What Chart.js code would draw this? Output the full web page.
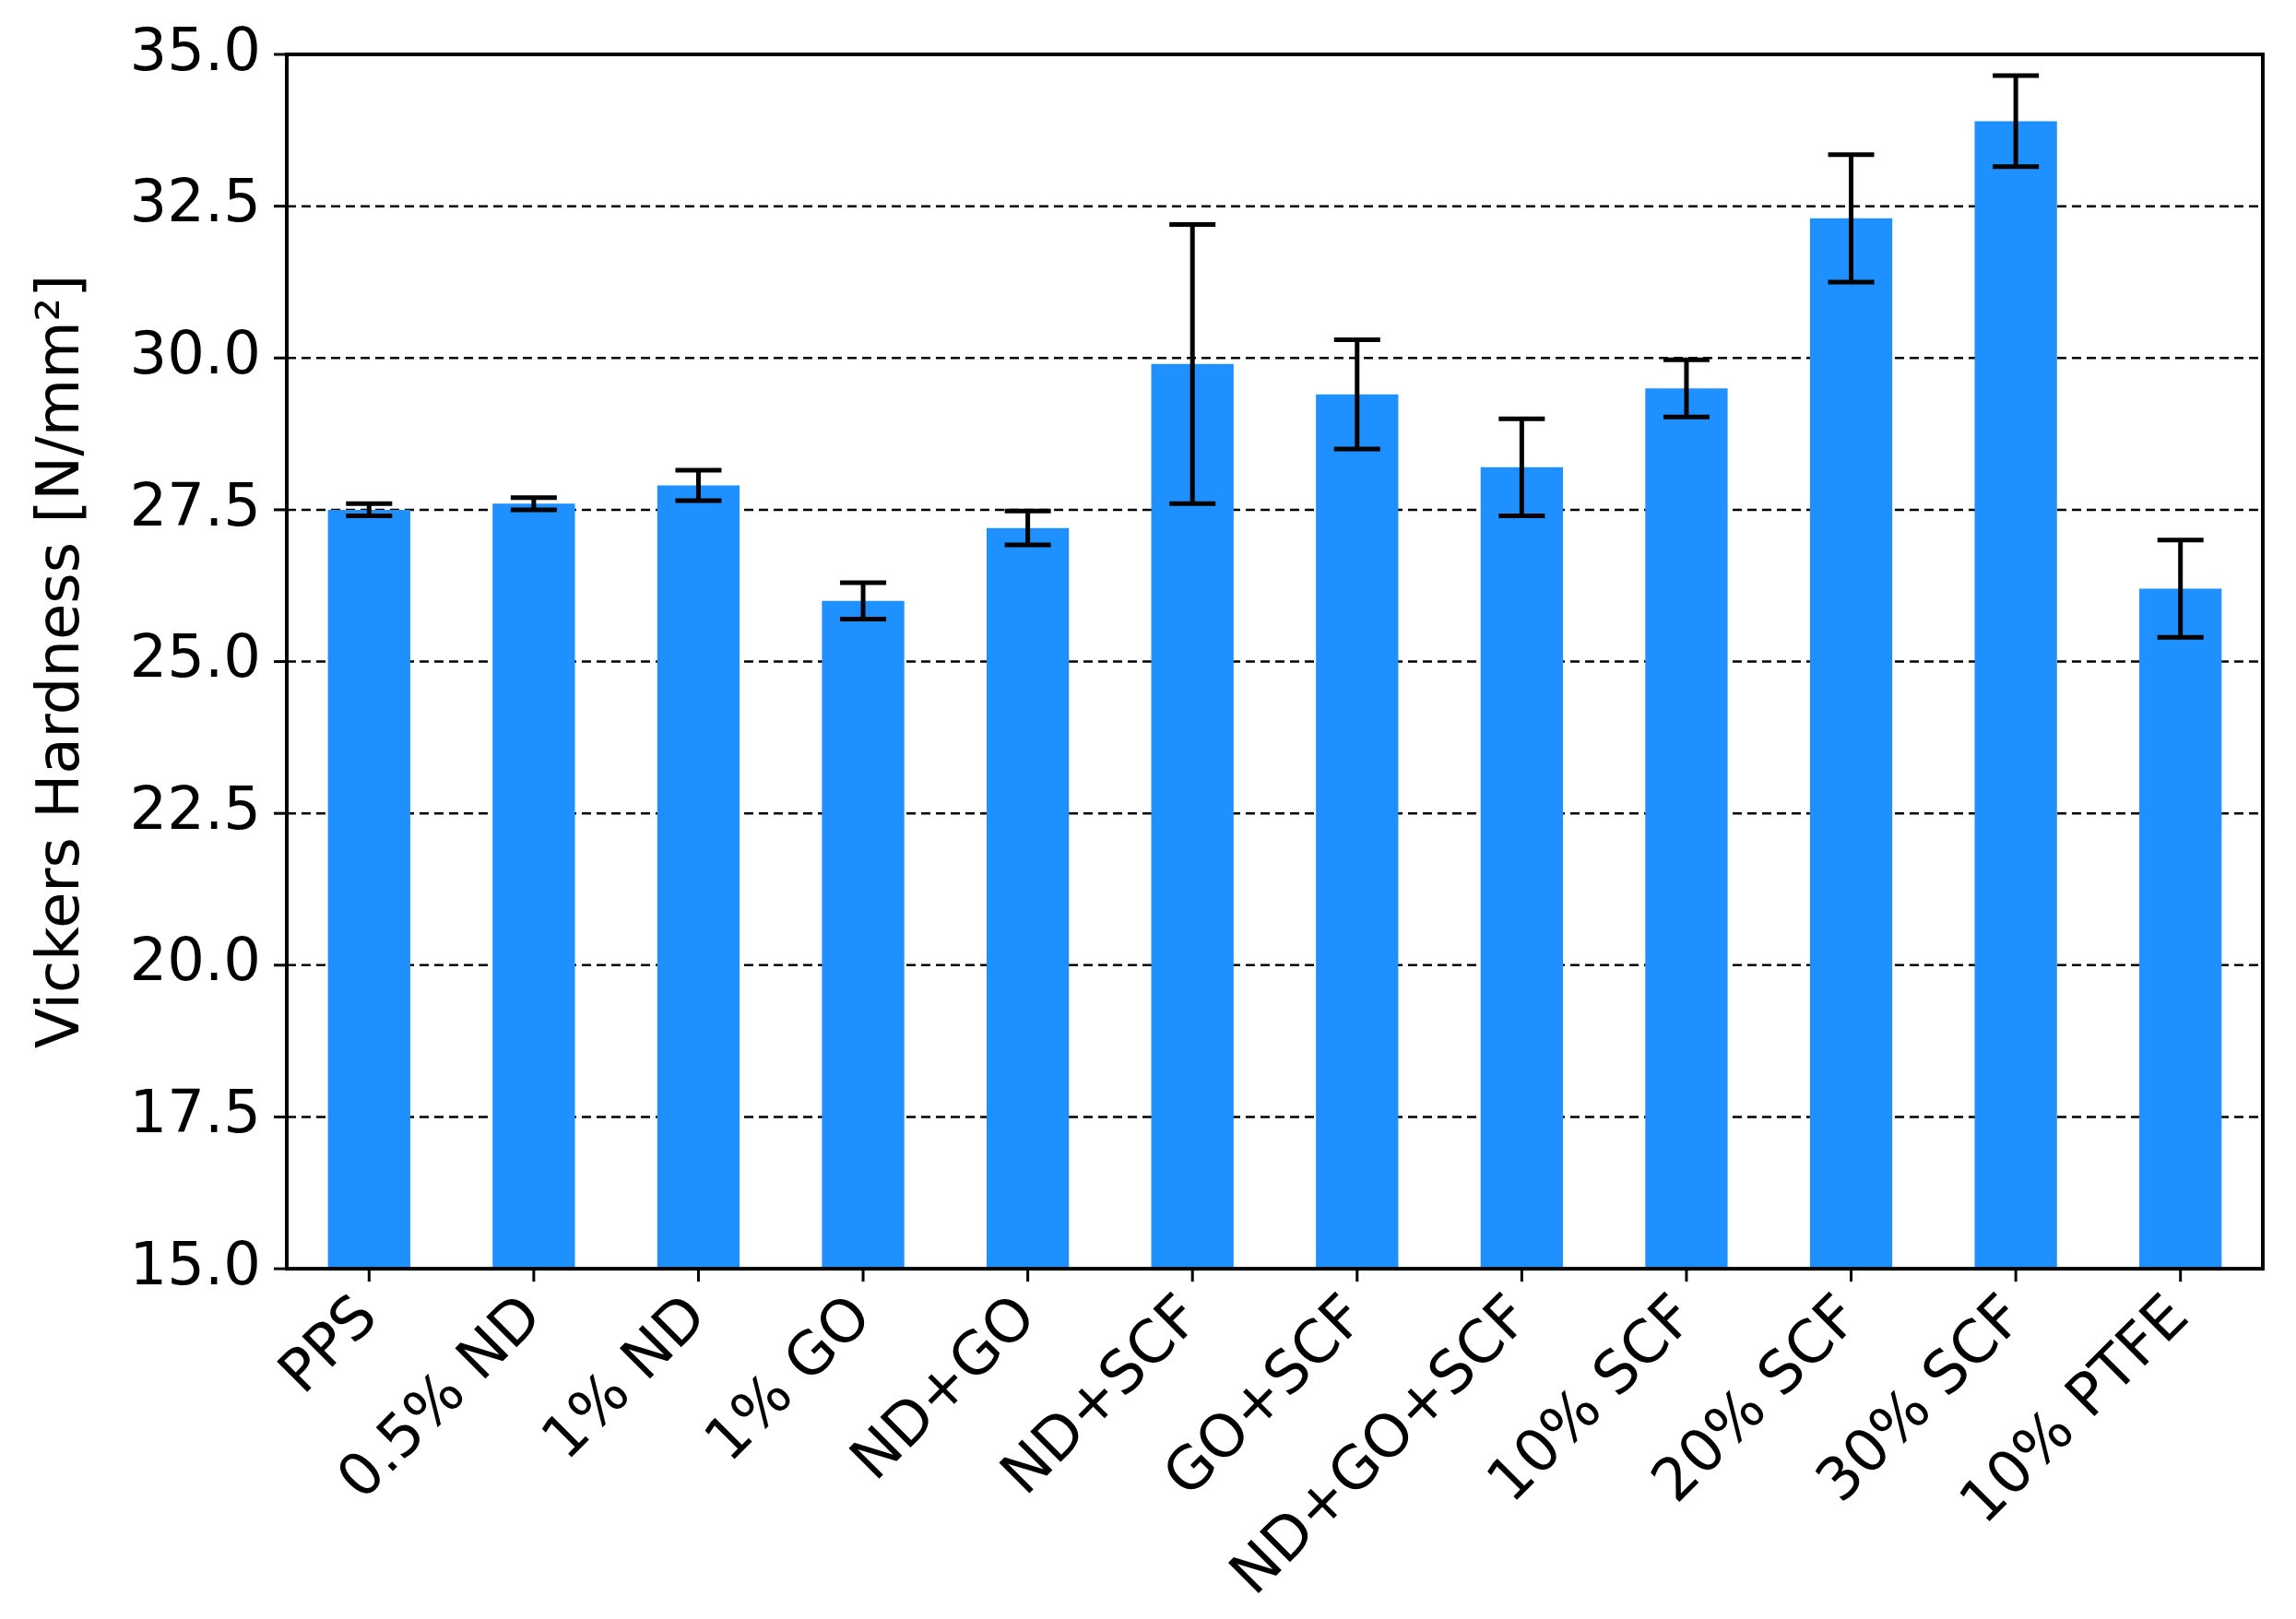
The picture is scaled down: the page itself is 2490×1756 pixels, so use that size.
<!DOCTYPE html>
<html>
<head>
<meta charset="utf-8">
<script src="https://cdn.jsdelivr.net/npm/chart.js@4"></script>
<style>
  html, body { margin: 0; padding: 0; background: #fff; }
  #wrap { width: 2490px; height: 1756px; }
</style>
</head>
<body>
<div id="wrap"><canvas id="hardChart"></canvas></div>
<script>
const categories = ['PPS', '0.5% ND', '1% ND', '1% GO', 'ND+GO', 'ND+SCF', 'GO+SCF', 'ND+GO+SCF', '10% SCF', '20% SCF', '30% SCF', '10% PTFE'];
const hardness = [27.5, 27.6, 27.9, 26.0, 27.2, 29.9, 29.4, 28.2, 29.5, 32.3, 33.9, 26.2];
const errors = [0.1, 0.1, 0.25, 0.3, 0.28, 2.3, 0.9, 0.8, 0.47, 1.05, 0.75, 0.8];
const yTicks = [15, 17.5, 20, 22.5, 25, 27.5, 30, 32.5, 35];

// error bars drawn through the chart scales
const errorBars = {
  id: 'errorBars',
  afterDatasetsDraw(chart) {
    const c = chart.ctx, x = chart.scales.x, y = chart.scales.y;
    c.save();
    c.strokeStyle = '#000';
    c.lineWidth = 5;
    hardness.forEach((v, i) => {
      const px = x.getPixelForValue(i);
      const top = y.getPixelForValue(v + errors[i]);
      const bot = y.getPixelForValue(v - errors[i]);
      c.beginPath();
      c.moveTo(px, top); c.lineTo(px, bot);
      c.moveTo(px - 25, top); c.lineTo(px + 25, top);
      c.moveTo(px - 25, bot); c.lineTo(px + 25, bot);
      c.stroke();
    });
    c.restore();
  }
};

// dashed grid lines + frame
const frame = {
  id: 'frame',
  beforeDatasetsDraw(chart) {
    const c = chart.ctx, a = chart.chartArea, y = chart.scales.y;
    c.save();
    c.strokeStyle = '#000';
    c.lineWidth = 2.5;
    c.setLineDash([10, 6]);
    yTicks.slice(1, -1).forEach(t => {
      const py = y.getPixelForValue(t);
      c.beginPath(); c.moveTo(a.left, py); c.lineTo(a.right, py); c.stroke();
    });
    c.restore();
  },
  afterDraw(chart) {
    const c = chart.ctx, a = chart.chartArea, x = chart.scales.x, y = chart.scales.y;
    c.save();
    c.strokeStyle = '#000';
    c.lineWidth = 4;
    c.strokeRect(a.left, a.top, a.right - a.left, a.bottom - a.top);
    c.lineWidth = 3;
    yTicks.forEach(t => {
      const py = y.getPixelForValue(t);
      c.beginPath(); c.moveTo(a.left - 14, py); c.lineTo(a.left, py); c.stroke();
    });
    categories.forEach((_, i) => {
      const px = x.getPixelForValue(i);
      c.beginPath(); c.moveTo(px, a.bottom); c.lineTo(px, a.bottom + 14); c.stroke();
    });
    c.restore();
  }
};

new Chart(document.getElementById('hardChart'), {
  type: 'bar',
  data: {
    labels: categories,
    datasets: [{
      data: hardness,
      backgroundColor: '#1E90FF',
      categoryPercentage: 1.0,
      barPercentage: 0.5
    }]
  },
  options: {
    responsive: true,
    maintainAspectRatio: false,
    animation: false,
    devicePixelRatio: 1,
    layout: { padding: { top: 59, right: 36, left: 0, bottom: 0 } },
    plugins: { legend: { display: false }, tooltip: { enabled: false } },
    scales: {
      x: {
        grid: { display: false },
        border: { display: false },
        ticks: {
          color: '#000',
          font: { family: 'DejaVu Sans', size: 64 },
          minRotation: 45, maxRotation: 45,
          padding: 8
        }
      },
      y: {
        min: 15, max: 35,
        afterBuildTicks: axis => { axis.ticks = yTicks.map(v => ({ value: v })); },
        afterFit: axis => { axis.width = 311; },
        grid: { display: false },
        border: { display: false },
        ticks: {
          color: '#000',
          font: { family: 'DejaVu Sans', size: 64 },
          padding: 20,
          callback: v => v.toFixed(1)
        },
        title: {
          display: true,
          text: 'Vickers Hardness [N/mm²]',
          color: '#000',
          font: { family: 'DejaVu Sans', size: 64 },
          padding: { top: 30, bottom: 10 }
        }
      }
    }
  },
  plugins: [frame, errorBars]
});
</script>
</body>
</html>
